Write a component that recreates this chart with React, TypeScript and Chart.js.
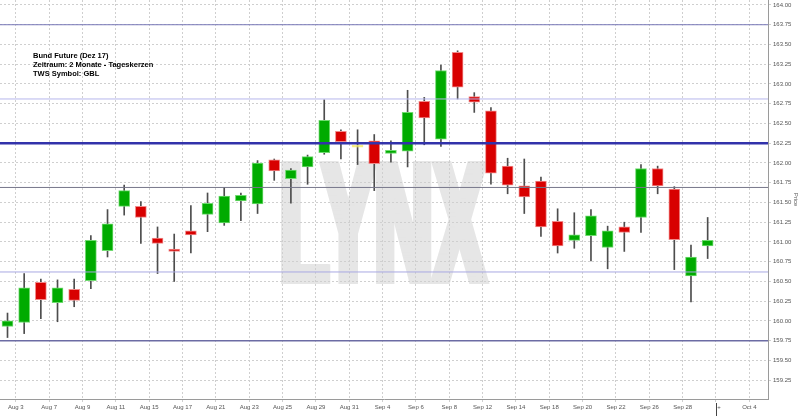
import React, { useEffect, useRef } from "react";
import { Chart, registerables } from "chart.js";

Chart.register(...registerables);

// Trading days (daily candles)
const days = [
  "Aug 2", "Aug 3", "Aug 4", "Aug 7", "Aug 8", "Aug 9", "Aug 10", "Aug 11",
  "Aug 14", "Aug 15", "Aug 16", "Aug 17", "Aug 18", "Aug 21", "Aug 22", "Aug 23",
  "Aug 24", "Aug 25", "Aug 28", "Aug 29", "Aug 30", "Aug 31", "Sep 1", "Sep 4",
  "Sep 5", "Sep 6", "Sep 7", "Sep 8", "Sep 11", "Sep 12", "Sep 13", "Sep 14",
  "Sep 15", "Sep 18", "Sep 19", "Sep 20", "Sep 21", "Sep 22", "Sep 25", "Sep 26",
  "Sep 27", "Sep 28", "Sep 29",
];
const futureDays = ["Oct 2", "Oct 3", "Oct 4"];

const opens = [
  159.93, 159.98, 160.49, 160.23, 160.40, 160.51, 160.89, 161.45,
  161.45, 161.05, 160.91, 161.14, 161.35, 161.24, 161.52, 161.48,
  162.04, 161.80, 161.95, 162.13, 162.40, 162.20, 162.28, 162.12,
  162.15, 162.78, 162.30, 163.40, 162.84, 162.66, 161.96, 161.71,
  161.77, 161.26, 161.02, 161.08, 160.93, 161.19, 161.31, 161.93,
  161.67, 160.57, 160.95,
];
const highs = [
  160.10, 160.60, 160.53, 160.52, 160.53, 161.08, 161.41, 161.72,
  161.51, 161.19, 161.10, 161.46, 161.62, 161.69, 161.62, 162.03,
  162.05, 161.93, 162.10, 162.80, 162.42, 162.42, 162.36, 162.28,
  162.92, 162.83, 163.24, 163.42, 162.89, 162.70, 162.06, 162.05,
  161.82, 161.42, 161.37, 161.41, 161.20, 161.25, 161.98, 161.96,
  161.70, 160.96, 161.31,
];
const lows = [
  159.79, 159.84, 160.03, 159.99, 160.18, 160.41, 160.81, 161.34,
  160.98, 160.60, 160.50, 160.86, 161.13, 161.21, 161.27, 161.36,
  161.78, 161.49, 161.73, 162.11, 162.05, 161.98, 161.65, 162.01,
  161.95, 162.23, 162.21, 162.81, 162.64, 161.73, 161.61, 161.36,
  161.07, 160.86, 160.92, 160.76, 160.66, 160.88, 161.12, 161.61,
  160.65, 160.24, 160.79,
];
const closes = [
  160.00, 160.42, 160.27, 160.42, 160.26, 161.02, 161.23, 161.65,
  161.31, 160.98, 160.88, 161.09, 161.49, 161.58, 161.59, 162.00,
  161.90, 161.91, 162.08, 162.54, 162.27, 162.20, 161.99, 162.16,
  162.64, 162.57, 163.17, 162.96, 162.77, 161.87, 161.72, 161.57,
  161.19, 160.95, 161.09, 161.33, 161.14, 161.12, 161.93, 161.71,
  161.03, 160.81, 161.02,
];

// Horizontal price levels
const levelValues = [163.75, 162.81, 162.25, 161.69, 160.62, 159.75];
const levelColors = ["#7878b8", "#b6b6ec", "#3232aa", "#76768a", "#a8a8e2", "#6c6ca4"];
const levelWidths = [1, 1, 2.5, 1, 1, 1.5];

// Axis ticks
const tickDays = [
  "Aug 3", "Aug 7", "Aug 9", "Aug 11", "Aug 15", "Aug 17", "Aug 21", "Aug 23",
  "Aug 25", "Aug 29", "Aug 31", "Sep 4", "Sep 6", "Sep 8", "Sep 12", "Sep 14",
  "Sep 18", "Sep 20", "Sep 22", "Sep 26", "Sep 28", "Oct 2", "Oct 4",
];
const tickLabels = [
  "Aug 3", "Aug 7", "Aug 9", "Aug 11", "Aug 15", "Aug 17", "Aug 21", "Aug 23",
  "Aug 25", "Aug 29", "Aug 31", "Sep 4", "Sep 6", "Sep 8", "Sep 12", "Sep 14",
  "Sep 18", "Sep 20", "Sep 22", "Sep 26", "Sep 28", "+", "Oct 4",
];
const markerDay = "Oct 2";
const yTickValues = [
  159.25, 159.5, 159.75, 160.0, 160.25, 160.5, 160.75, 161.0, 161.25, 161.5,
  161.75, 162.0, 162.25, 162.5, 162.75, 163.0, 163.25, 163.5, 163.75, 164.0,
];

const infoLines = ["Bund Future (Dez 17)", "Zeitraum: 2 Monate - Tageskerzen", "TWS Symbol: GBL"];
const watermarkText = "LYNX";

const FONT = "'Liberation Sans', Arial, sans-serif";

export default function App() {
  const ref = useRef<HTMLCanvasElement | null>(null);

  useEffect(() => {
    document.body.style.margin = "0";
    const canvas = ref.current;
    if (!canvas) return;

    const allDays = [...days, ...futureDays];
    const tickPositions = tickDays.map((d) => allDays.indexOf(d) - 0.5);
    const markerIndex = tickDays.indexOf(markerDay);

    const bodyFill = days.map((_, i) =>
      closes[i] > opens[i] ? "#00ab00" : closes[i] < opens[i] ? "#d80000" : "#f4e84a"
    );
    const bodyBorder = days.map((_, i) =>
      closes[i] > opens[i] ? "#6fda6f" : closes[i] < opens[i] ? "#f08a8a" : "#f8f08a"
    );

    const watermark = {
      id: "watermark",
      beforeDraw(chart: any) {
        const { ctx } = chart;
        ctx.save();
        ctx.fillStyle = "#e6e6e6";
        ctx.font = `bold 178px ${FONT}`;
        ctx.textAlign = "center";
        ctx.textBaseline = "alphabetic";
        for (let dx = -4; dx <= 4; dx += 1) {
          ctx.save();
          ctx.translate(383 + dx, 284);
          ctx.scale(0.45, 1);
          ctx.fillText(watermarkText, 0, 0);
          ctx.restore();
        }
        ctx.restore();
      },
    };

    const info = {
      id: "info",
      afterDraw(chart: any) {
        const { ctx } = chart;
        ctx.save();
        ctx.fillStyle = "#000";
        ctx.font = `bold 7.5px ${FONT}`;
        ctx.textAlign = "left";
        ctx.textBaseline = "middle";
        infoLines.forEach((t, i) => ctx.fillText(t, 33, 55.5 + i * 9));
        // marker tick below the axis
        const xs = chart.scales.x;
        const px = Math.round(xs.getPixelForValue(tickPositions[markerIndex])) + 0.5;
        ctx.strokeStyle = "#444";
        ctx.lineWidth = 1;
        ctx.beginPath();
        ctx.moveTo(px, xs.top + 4);
        ctx.lineTo(px, xs.bottom);
        ctx.stroke();
        ctx.restore();
      },
    };

    const levelDatasets = levelValues.map((v, i) => ({
      type: "line" as const,
      label: "level" + i,
      data: [
        { x: -2, y: v },
        { x: 48, y: v },
      ],
      borderColor: levelColors[i],
      borderWidth: levelWidths[i],
      pointRadius: 0,
      order: 0,
    }));

    const chart = new Chart(canvas, {
      type: "bar",
      data: {
        datasets: [
          ...levelDatasets,
          {
            type: "bar",
            label: "body",
            data: days.map((_, i) => ({ x: i, y: [opens[i], closes[i]] })) as any,
            backgroundColor: bodyFill,
            borderColor: bodyBorder,
            borderWidth: 1,
            borderSkipped: false,
            barThickness: 11,
            minBarLength: 2,
            grouped: false,
            order: 1,
          },
          {
            type: "bar",
            label: "wick",
            data: days.map((_, i) => ({ x: i, y: [lows[i], highs[i]] })) as any,
            backgroundColor: "#4d4d4d",
            borderWidth: 0,
            barThickness: 1,
            grouped: false,
            order: 2,
          },
        ] as any,
      },
      options: {
        responsive: false,
        animation: false,
        events: [],
        layout: { padding: 0, autoPadding: false },
        plugins: {
          legend: { display: false },
          tooltip: { enabled: false },
          title: { display: false },
        },
        scales: {
          x: {
            type: "linear",
            min: -0.45,
            max: 45.62,
            offset: false,
            afterBuildTicks: (s: any) => {
              s.ticks = tickPositions.map((v) => ({ value: v }));
            },
            afterFit: (s: any) => {
              s.height = 17;
              s.paddingLeft = 0;
              s.paddingRight = 0;
            },
            ticks: {
              autoSkip: false,
              maxRotation: 0,
              minRotation: 0,
              padding: 2,
              color: "#555",
              font: { size: 6, family: FONT },
              callback: (_v: any, i: number) =>
                i === markerIndex ? "\u2002\u2002" + tickLabels[i] : tickLabels[i],
            },
            grid: {
              offset: false,
              color: "#cfcfcf",
              lineWidth: 1,
              tickLength: 3,
              tickColor: "#cfcfcf",
              tickBorderDash: [2, 2],
            },
            border: { display: true, color: "#9a9a9a", width: 1, dash: [2, 2] },
          },
          y: {
            type: "linear",
            position: "right",
            min: 159.012,
            max: 164.063,
            beginAtZero: false,
            afterBuildTicks: (s: any) => {
              s.ticks = yTickValues.map((v) => ({ value: v }));
            },
            afterFit: (s: any) => {
              s.width = 32;
              s.paddingTop = 0;
              s.paddingBottom = 0;
            },
            ticks: {
              padding: 1,
              color: "#555",
              font: { size: 6, family: FONT },
              callback: (v: any) => Number(v).toFixed(2),
            },
            grid: {
              color: "#cfcfcf",
              lineWidth: 1,
              tickLength: 4,
              tickColor: "#cfcfcf",
              tickBorderDash: [2, 2],
            },
            border: { display: true, color: "#9a9a9a", width: 1, dash: [2, 2] },
            title: {
              display: true,
              text: "Price",
              color: "#555",
              font: { size: 6, family: FONT },
              padding: 1,
            },
          },
        },
      } as any,
      plugins: [watermark, info],
    });

    return () => chart.destroy();
  }, []);

  return (
    <div style={{ width: 800, height: 416, position: "relative" }}>
      <canvas ref={ref} width={800} height={416} style={{ display: "block" }} />
    </div>
  );
}
